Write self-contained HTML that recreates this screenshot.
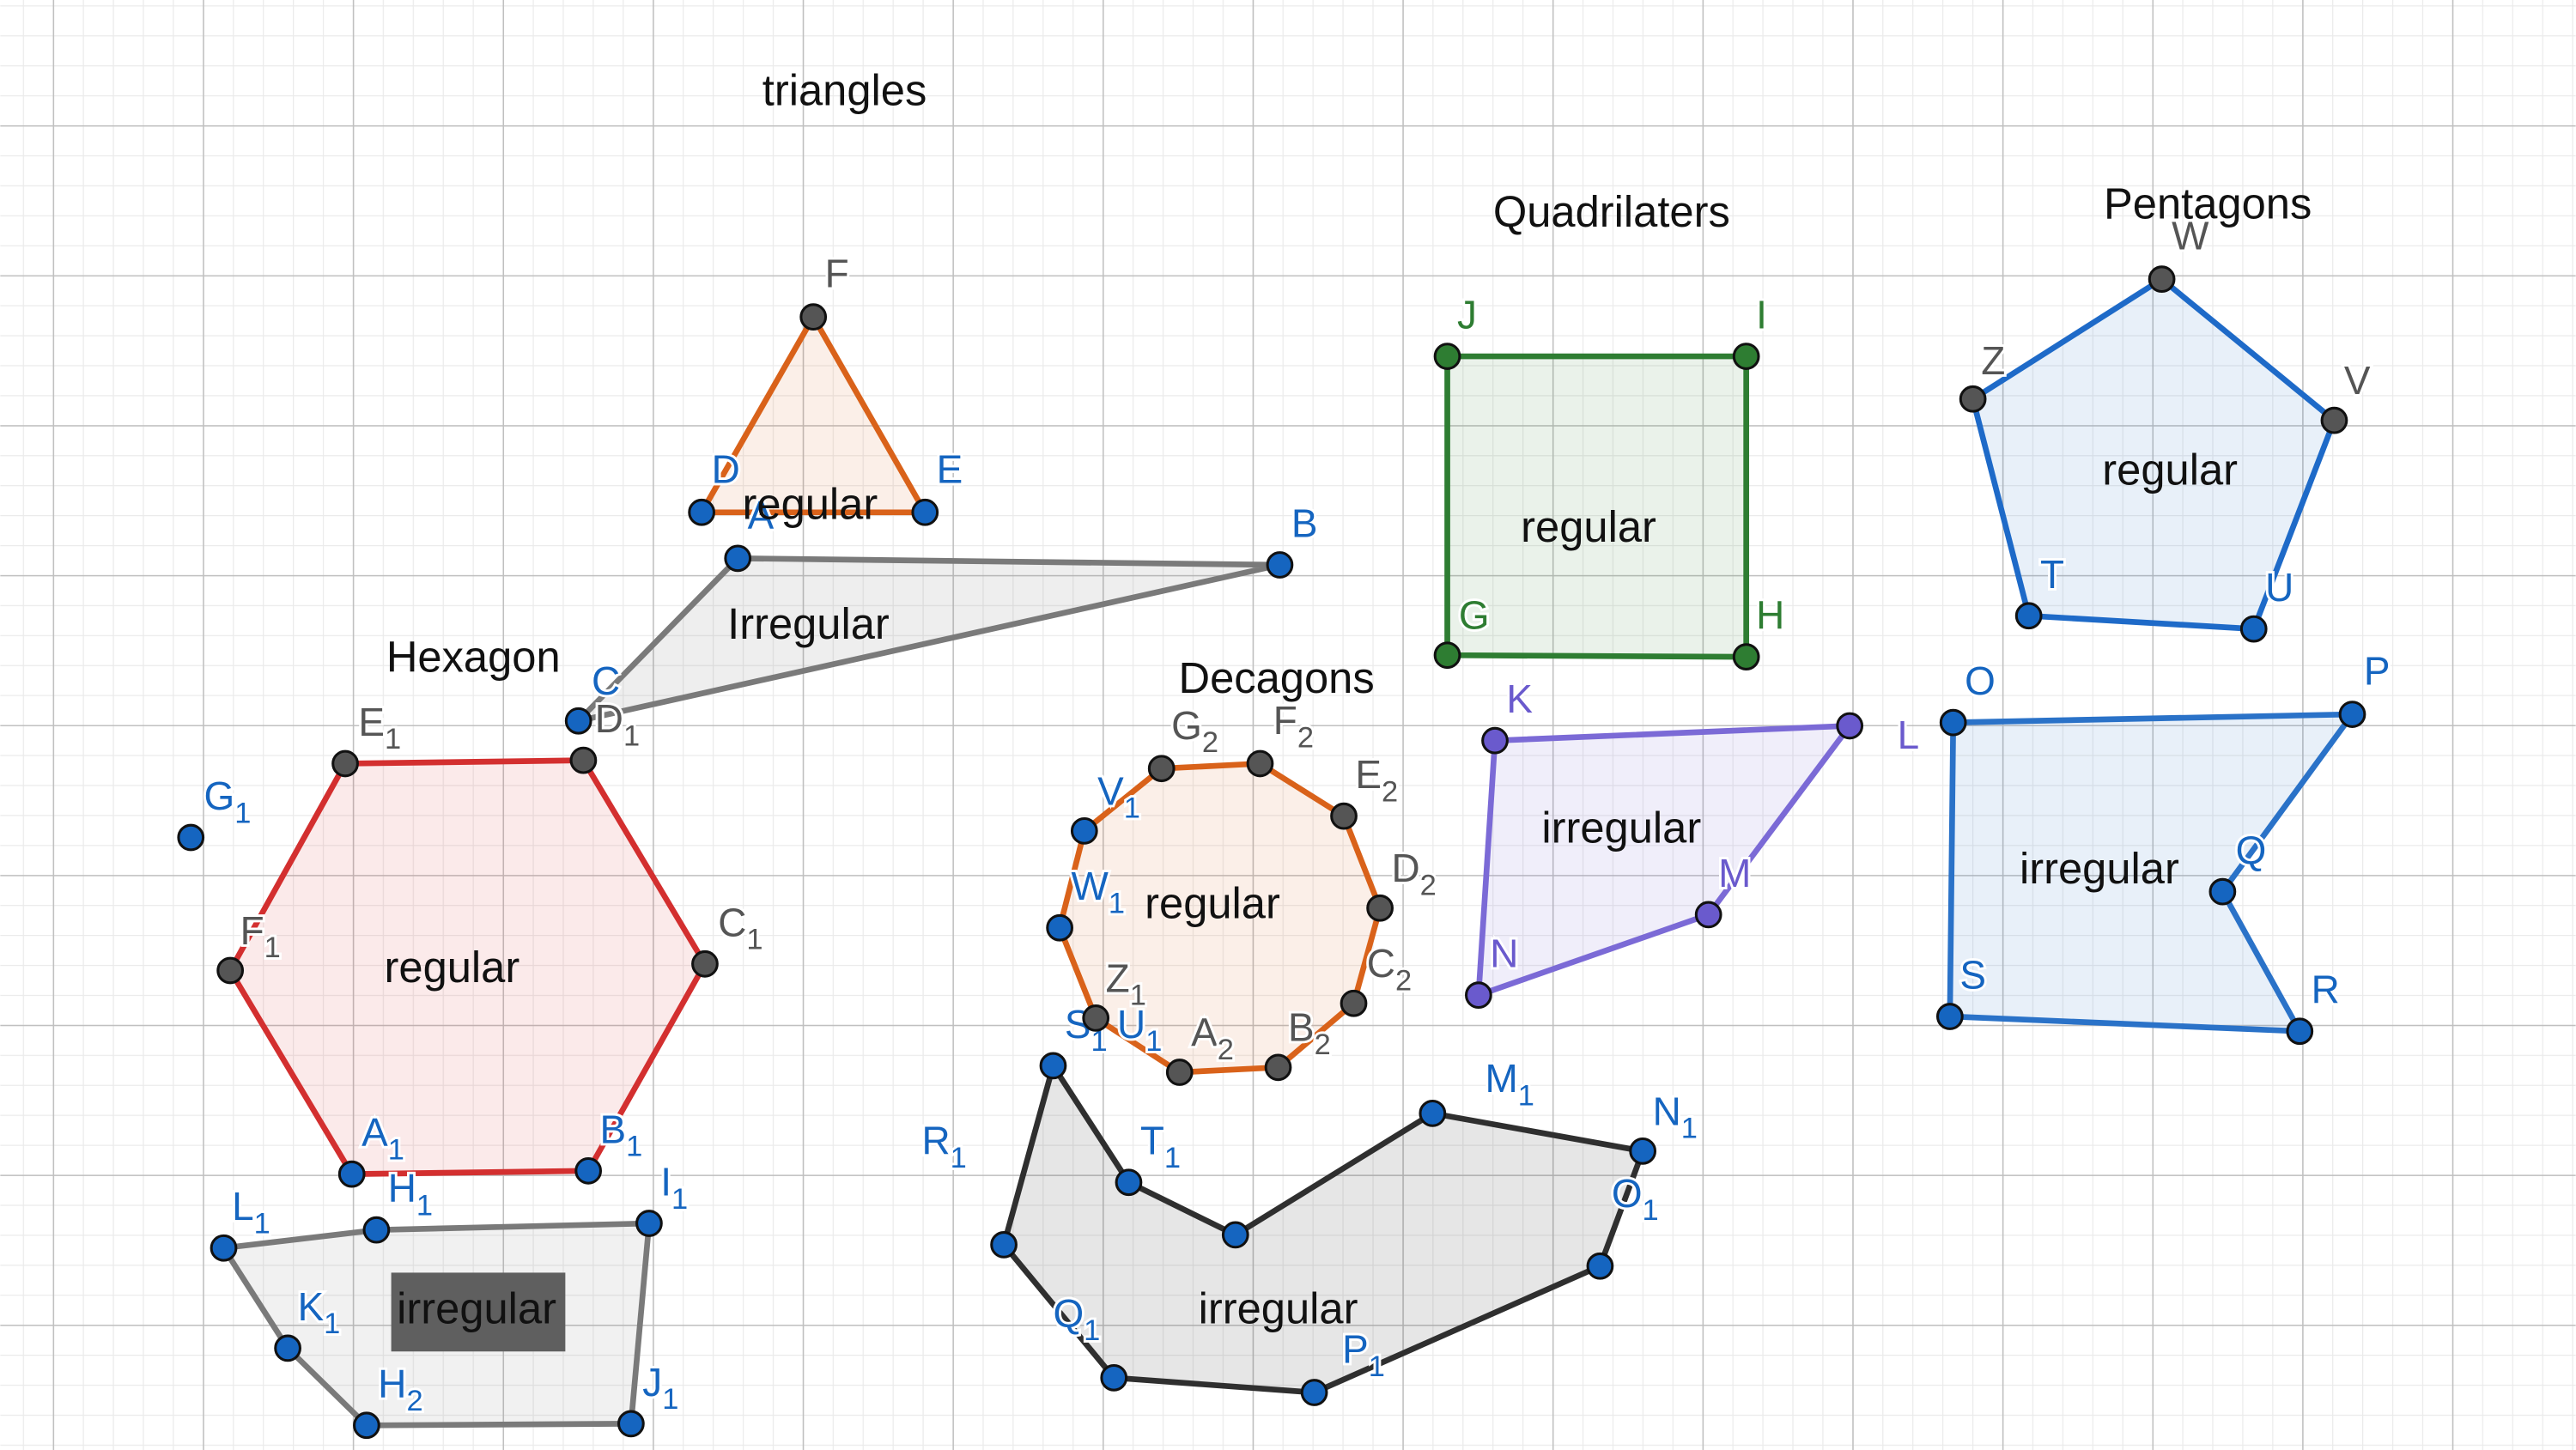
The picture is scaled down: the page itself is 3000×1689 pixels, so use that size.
<!DOCTYPE html>
<html><head><meta charset="utf-8"><style>
html,body{margin:0;padding:0;background:#fff;}
svg{display:block;}
text{font-family:"Liberation Sans",sans-serif;}
.lb{font-size:24px;stroke:#fff;stroke-width:3px;paint-order:stroke;}
.sub{font-size:18px;}
.t{font-size:26.5px;fill:#111;}
</style></head><body>
<svg width="3000" height="1689" viewBox="0 0 1568 883" xmlns="http://www.w3.org/2000/svg">
<defs>
<pattern id="mn" x="13.74" y="3.26" width="18.26" height="18.26" patternUnits="userSpaceOnUse">
<path d="M0 0V18.26M0 0H18.26" stroke="#ebebeb" stroke-width="1.3" fill="none"/>
</pattern>
<pattern id="mj" x="32" y="76.3" width="91.3" height="91.3" patternUnits="userSpaceOnUse">
<path d="M0 0V91.3M0 0H91.3" stroke="#c0c0c0" stroke-width="1.6" fill="none"/>
</pattern>
</defs>
<rect width="1568" height="883" fill="#fff"/>
<rect width="1568" height="883" fill="url(#mn)"/>
<rect width="1568" height="883" fill="url(#mj)"/>

<g stroke-width="3.5" stroke-linejoin="round">
<polygon points="495,193 563,312 427,312" fill="rgba(217,98,26,0.1)" stroke="#d9621a"/>
<polygon points="449,340 779,344 352,439" fill="rgba(120,120,120,0.13)" stroke="#7a7a7a"/>
<polygon points="210,465 355,463 429,587 358,713 214,715 140,591" fill="rgba(211,47,47,0.1)" stroke="#d32f2f"/>
<polygon points="707,468 767,465 818,497 840,553 824,611 778,650 718,653 667,620 645,565 660,506" fill="rgba(217,98,26,0.1)" stroke="#d9621a"/>
<polygon points="881,217 1063,217 1063,400 881,399" fill="rgba(46,125,50,0.1)" stroke="#2e7d32"/>
<polygon points="910,451 1126,442 1040,557 900,606" fill="rgba(106,90,205,0.1)" stroke="#7b6ad6"/>
<polygon points="1316,170 1421,256 1372,383 1235,375 1201,243" fill="rgba(30,106,200,0.1)" stroke="#1e6ac8"/>
<polygon points="1189,440 1432,435 1353,543 1400,628 1187,619" fill="rgba(30,106,200,0.1)" stroke="#2a72c8"/>
<polygon points="136,760 229,749 395,745 384,867 223,868 175,821" fill="rgba(120,120,120,0.1)" stroke="#7a7a7a"/>
<polygon points="641,649 687,720 752,752 872,678 1000,701 974,771 800,848 678,839 611,758" fill="rgba(60,60,60,0.13)" stroke="#2f2f2f"/>
</g>
<rect x="238" y="775" width="106" height="48" fill="#5f5f5f"/>

<g class="lb">
<g fill="#555">
<text x="502" y="175">F</text>
<text x="1322" y="152">W</text><text x="1427" y="240">V</text><text x="1206" y="228">Z</text>
<text x="218" y="448">E<tspan class="sub" dy="8">1</tspan></text>
<text x="362" y="446">D<tspan class="sub" dy="8">1</tspan></text>
<text x="437" y="570">C<tspan class="sub" dy="8">1</tspan></text>
<text x="146" y="575">F<tspan class="sub" dy="8">1</tspan></text>
<text x="713" y="450">G<tspan class="sub" dy="8">2</tspan></text>
<text x="775" y="447">F<tspan class="sub" dy="8">2</tspan></text>
<text x="825" y="480">E<tspan class="sub" dy="8">2</tspan></text>
<text x="847" y="537">D<tspan class="sub" dy="8">2</tspan></text>
<text x="832" y="595">C<tspan class="sub" dy="8">2</tspan></text>
<text x="784" y="634">B<tspan class="sub" dy="8">2</tspan></text>
<text x="725" y="637">A<tspan class="sub" dy="8">2</tspan></text>
<text x="673" y="604">Z<tspan class="sub" dy="8">1</tspan></text>
</g>
<g fill="#1565c0">
<text x="433" y="294">D</text><text x="570" y="294">E</text><text x="455" y="322">A</text><text x="786" y="327">B</text><text x="360" y="423">C</text>
<text x="124" y="493">G<tspan class="sub" dy="8">1</tspan></text>
<text x="365" y="696">B<tspan class="sub" dy="8">1</tspan></text>
<text x="220" y="698">A<tspan class="sub" dy="8">1</tspan></text>
<text x="236" y="732">H<tspan class="sub" dy="8">1</tspan></text>
<text x="668" y="490">V<tspan class="sub" dy="8">1</tspan></text>
<text x="652" y="548">W<tspan class="sub" dy="8">1</tspan></text>
<text x="648" y="632">S<tspan class="sub" dy="8">1</tspan></text>
<text x="680" y="632">U<tspan class="sub" dy="8">1</tspan></text>
<text x="1242" y="358">T</text><text x="1379" y="366">U</text>
<text x="1196" y="423">O</text><text x="1439" y="417">P</text><text x="1361" y="526">Q</text><text x="1407" y="611">R</text><text x="1193" y="602">S</text>
<text x="141" y="743">L<tspan class="sub" dy="8">1</tspan></text>
<text x="402" y="728">I<tspan class="sub" dy="8">1</tspan></text>
<text x="391" y="850">J<tspan class="sub" dy="8">1</tspan></text>
<text x="230" y="851">H<tspan class="sub" dy="8">2</tspan></text>
<text x="181" y="804">K<tspan class="sub" dy="8">1</tspan></text>
<text x="561" y="703">R<tspan class="sub" dy="8">1</tspan></text>
<text x="694" y="703">T<tspan class="sub" dy="8">1</tspan></text>
<text x="904" y="665">M<tspan class="sub" dy="8">1</tspan></text>
<text x="1006" y="685">N<tspan class="sub" dy="8">1</tspan></text>
<text x="981" y="735">O<tspan class="sub" dy="8">1</tspan></text>
<text x="641" y="808">Q<tspan class="sub" dy="8">1</tspan></text>
<text x="817" y="830">P<tspan class="sub" dy="8">1</tspan></text>
</g>
<g fill="#2e7d32"><text x="887" y="200">J</text><text x="1069" y="200">I</text><text x="1069" y="383">H</text><text x="888" y="383">G</text></g>
<g fill="#6a5acd"><text x="917" y="434">K</text><text x="1155" y="456">L</text><text x="1046" y="540">M</text><text x="907" y="589">N</text></g>
</g>

<g stroke="#111" stroke-width="1.6">
<g fill="#555">
<circle cx="495" cy="193" r="7.5"/>
<circle cx="355" cy="463" r="7.5"/><circle cx="210" cy="465" r="7.5"/><circle cx="429" cy="587" r="7.5"/><circle cx="140" cy="591" r="7.5"/>
<circle cx="707" cy="468" r="7.5"/><circle cx="767" cy="465" r="7.5"/><circle cx="818" cy="497" r="7.5"/><circle cx="840" cy="553" r="7.5"/><circle cx="824" cy="611" r="7.5"/><circle cx="778" cy="650" r="7.5"/><circle cx="718" cy="653" r="7.5"/><circle cx="667" cy="620" r="7.5"/>
<circle cx="1316" cy="170" r="7.5"/><circle cx="1421" cy="256" r="7.5"/><circle cx="1201" cy="243" r="7.5"/>
</g>
<g fill="#1565c0">
<circle cx="427" cy="312" r="7.5"/><circle cx="563" cy="312" r="7.5"/>
<circle cx="449" cy="340" r="7.5"/><circle cx="779" cy="344" r="7.5"/><circle cx="352" cy="439" r="7.5"/>
<circle cx="358" cy="713" r="7.5"/><circle cx="214" cy="715" r="7.5"/><circle cx="116" cy="510" r="7.5"/>
<circle cx="645" cy="565" r="7.5"/><circle cx="660" cy="506" r="7.5"/>
<circle cx="1372" cy="383" r="7.5"/><circle cx="1235" cy="375" r="7.5"/>
<circle cx="1189" cy="440" r="7.5"/><circle cx="1432" cy="435" r="7.5"/><circle cx="1353" cy="543" r="7.5"/><circle cx="1400" cy="628" r="7.5"/><circle cx="1187" cy="619" r="7.5"/>
<circle cx="136" cy="760" r="7.5"/><circle cx="229" cy="749" r="7.5"/><circle cx="395" cy="745" r="7.5"/><circle cx="384" cy="867" r="7.5"/><circle cx="223" cy="868" r="7.5"/><circle cx="175" cy="821" r="7.5"/>
<circle cx="641" cy="649" r="7.5"/><circle cx="687" cy="720" r="7.5"/><circle cx="752" cy="752" r="7.5"/><circle cx="872" cy="678" r="7.5"/><circle cx="1000" cy="701" r="7.5"/><circle cx="974" cy="771" r="7.5"/><circle cx="800" cy="848" r="7.5"/><circle cx="678" cy="839" r="7.5"/><circle cx="611" cy="758" r="7.5"/>
</g>
<g fill="#2e7d32"><circle cx="881" cy="217" r="7.5"/><circle cx="1063" cy="217" r="7.5"/><circle cx="1063" cy="400" r="7.5"/><circle cx="881" cy="399" r="7.5"/></g>
<g fill="#6a5acd"><circle cx="910" cy="451" r="7.5"/><circle cx="1126" cy="442" r="7.5"/><circle cx="1040" cy="557" r="7.5"/><circle cx="900" cy="606" r="7.5"/></g>
</g>

<g class="t" text-anchor="middle">
<text x="514" y="64">triangles</text>
<text x="981" y="138">Quadrilaters</text>
<text x="1344" y="133">Pentagons</text>
<text x="288" y="409">Hexagon</text>
<text x="777" y="422">Decagons</text>
<text x="493" y="316">regular</text>
<text x="492" y="389">Irregular</text>
<text x="275" y="598">regular</text>
<text x="738" y="559">regular</text>
<text x="967" y="330">regular</text>
<text x="1321" y="295">regular</text>
<text x="987" y="513">irregular</text>
<text x="1278" y="538">irregular</text>
<text x="290" y="806">irregular</text>
<text x="778" y="806">irregular</text>
</g>
</svg>
</body></html>
